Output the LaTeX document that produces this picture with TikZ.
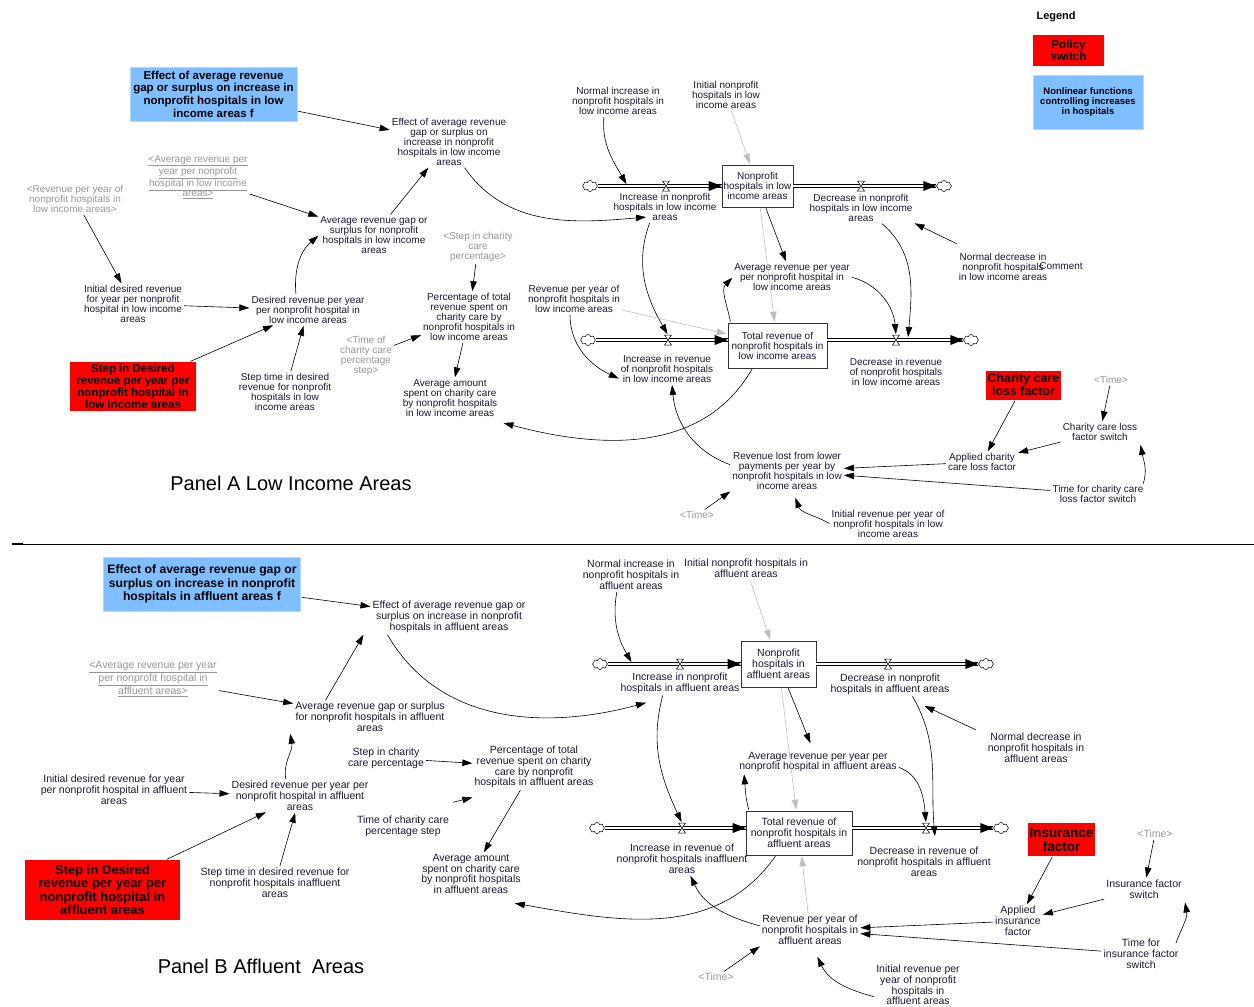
\documentclass[tikz,border=0pt]{standalone}
\usepackage{fontspec}
\setmainfont{Liberation Sans}
\usetikzlibrary{arrows.meta,positioning,shapes.symbols,decorations.markings}
\definecolor{txt}{RGB}{25,25,50}
\definecolor{ghostc}{RGB}{150,150,150}
\definecolor{policyred}{RGB}{255,0,0}
\definecolor{nlblue}{RGB}{128,191,255}
\definecolor{linkgrey}{RGB}{190,190,190}

\begin{document}
\begin{tikzpicture}[x=1pt, y=1pt,
    varnode/.style={align=center, text=txt, inner sep=1pt, font=\fontsize{10}{10}\selectfont},
    varB/.style={varnode, font=\fontsize{10.5}{10.8}\selectfont},
    ghost/.style={varnode, text=ghostc},
    ghostB/.style={varB, text=ghostc},
    stockbox/.style={draw=black!80, rectangle, inner sep=1pt, line width=0.6pt},
    policy/.style={fill=policyred, align=center, inner sep=1pt, text=black},
    nonlin/.style={fill=nlblue, draw=nlblue!60!white, align=center, inner sep=1pt, text=black},
    cloudend/.style={cloud, draw, cloud puffs=8, aspect=1.4, minimum width=15pt, minimum height=11pt, inner sep=0pt, line width=0.5pt},
    link/.style={-{Triangle[length=10pt,width=6.5pt]}, line width=0.6pt, shorten >=1pt, shorten <=1pt},
    greylink/.style={link, draw=linkgrey},
    pipe/.style={draw=black, line width=0.6pt, double=white, double distance=2.4pt,
        postaction={decorate, decoration={markings, mark=at position 1 with {\fill (0,0) -- (-13,5) -- (-13,-5) -- cycle;}}}},
    valve/.pic={\draw[line width=0.5pt, fill=white] (-3.5,5) -- (3.5,5) -- (-3.5,-5) -- (3.5,-5) -- cycle;},
    panel/.style={font=\fontsize{20}{24}\selectfont, text=black}
]
\useasboundingbox (0,0) rectangle (1254,-1007);

% Legend
\node[font=\bfseries\fontsize{11}{13}\selectfont, anchor=west] (legend) at (1033,-17) {Legend};
\node[policy, minimum width=71pt, minimum height=31pt, font=\bfseries\fontsize{11.5}{12.5}\selectfont] (legPolicy) at (1068.5,-50.5) {Policy\\switch};
\node[nonlin, minimum width=110pt, minimum height=54pt, font=\bfseries\fontsize{9.5}{10}\selectfont] (legNonlin) at (1088,-102) {Nonlinear functions\\controlling increases\\in hospitals};

% ---------------- Panel A ----------------
\node[nonlin, minimum width=167pt, minimum height=54pt, font=\bfseries\fontsize{11.5}{12.7}\selectfont] (effAf) at (213.5,-94) {Effect of average revenue\\gap or surplus on increase in\\nonprofit hospitals in low\\income areas f};
\node[varnode] (effA) at (449,-142) {Effect of average revenue\\gap or surplus on\\increase in nonprofit\\hospitals in low income\\areas};
\node[ghost] (avgGhostA) at (198,-177) {\underline{<Average revenue per}\\\underline{year per nonprofit}\\\underline{hospital in low income}\\\underline{areas>}};
\node[ghost] (revGhostA) at (75,-199) {<Revenue per year of\\nonprofit hospitals in\\low income areas>};
\node[varnode] (gapA) at (374,-235) {Average revenue gap or\\surplus for nonprofit\\hospitals in low income\\areas};
\node[varnode] (initDesA) at (133,-304) {Initial desired revenue\\for year per nonprofit\\hospital in low income\\areas};
\node[varnode] (desA) at (308,-310) {Desired revenue per year\\per nonprofit hospital in\\low income areas};
\node[policy, minimum width=126pt, minimum height=49pt, font=\bfseries\fontsize{11.5}{12}\selectfont] (stepA) at (133,-386.5) {Step in Desired\\revenue per year per\\nonprofit hospital in\\low income areas};
\node[varnode] (stepTimeA) at (285,-392) {Step time in desired\\revenue for nonprofit\\hospitals in low\\income areas};
\node[ghost] (timeStepGhostA) at (366,-356) {<Time of\\charity care\\percentage\\step>};
\node[ghost] (stepPctGhostA) at (478,-247) {<Step in charity\\care\\percentage>};
\node[varnode] (pctA) at (469,-317) {Percentage of total\\revenue spent on\\charity care by\\nonprofit hospitals in\\low income areas};
\node[varnode] (charityA) at (450,-398) {Average amount\\spent on charity care\\by nonprofit hospitals\\in low income areas};
\node[panel] (titleA) at (291,-483) {Panel A Low Income Areas};

% stocks and flows A
\node[stockbox, varnode, minimum width=71pt, minimum height=42pt] (hospA) at (757.5,-186) {Nonprofit\\hospitals in low\\income areas};
\node[cloudend] (cloudA1) at (590,-186) {};
\node[cloudend] (cloudA2) at (944,-186) {};
\coordinate (valveIncA) at (666,-186);
\coordinate (valveDecA) at (861,-186);
\coordinate (pipeA) at (627,-185);
\node[varnode] (incHospA) at (665,-207) {Increase in nonprofit\\hospitals in low income\\areas};
\node[varnode] (decHospA) at (861,-208) {Decrease in nonprofit\\hospitals in low income\\areas};
\node[varnode] (normIncA) at (618,-101) {Normal increase in\\nonprofit hospitals in\\low income areas};
\node[varnode] (initHospA) at (726,-95) {Initial nonprofit\\hospitals in low\\income areas};
\node[varnode] (avgRevA) at (792,-277) {Average revenue per year\\per nonprofit hospital in\\low income areas};
\node[varnode] (normDecA) at (1003,-267) {Normal decrease in\\nonprofit hospitals\\in low income areas};
\node[varnode] (commentA) at (1061,-266) {Comment};

\node[stockbox, varnode, minimum width=99pt, minimum height=45pt] (revA) at (777.5,-345.5) {Total revenue of\\nonprofit hospitals in\\low income areas};
\node[cloudend] (cloudA3) at (588,-340) {};
\node[cloudend] (cloudA4) at (971,-340) {};
\coordinate (valveRevIncA) at (668,-340);
\coordinate (valveRevDecA) at (896,-340);
\coordinate (pipeA2) at (908,-338);
\node[varnode] (incRevA) at (667,-369) {Increase in revenue\\of nonprofit hospitals\\in low income areas};
\node[varnode] (decRevA) at (896,-372) {Decrease in revenue\\of nonprofit hospitals\\in low income areas};
\node[varnode] (revYrA) at (574,-299) {Revenue per year of\\nonprofit hospitals in\\low income areas};
\node[varnode] (lostA) at (787,-471) {Revenue lost from lower\\payments per year by\\nonprofit hospitals in low\\income areas};
\node[ghost] (timeA) at (697,-515) {<Time>};
\node[varnode] (initRevA) at (888,-524) {Initial revenue per year of\\nonprofit hospitals in low\\income areas};
\node[policy, minimum width=75pt, minimum height=29pt, font=\bfseries\fontsize{12.4}{13}\selectfont] (careFactor) at (1023.5,-385) {Charity care\\loss factor};
\node[ghost] (timeGhostA2) at (1111,-380) {<Time>};
\node[varnode] (careSwitch) at (1100,-432) {Charity care loss\\factor switch};
\node[varnode] (appliedCare) at (982,-462) {Applied charity\\care loss factor};
\node[varnode] (timeCareSwitch) at (1098,-494) {Time for charity care\\loss factor switch};

\draw[pipe] (cloudA1) -- (hospA);
\draw[pipe] (hospA) -- (cloudA2);
\draw[pipe] (cloudA3) -- (cloudA3 -| revA.west);
\draw[pipe] (cloudA4 -| revA.east) -- (cloudA4);
\foreach \v in {valveIncA,valveDecA,valveRevIncA,valveRevDecA} \pic at (\v) {valve};

% links A
\draw[link] (effAf) -- (effA);
\draw[link] (avgGhostA) -- (gapA);
\draw[link] (gapA) -- (effA);
\draw[link] (revGhostA) -- (initDesA);
\draw[link] (initDesA) -- (desA);
\draw[link] ([xshift=-12pt]desA.north) to[out=95,in=-140] (gapA.west);
\draw[link] (stepA) -- (desA);
\draw[link] (stepTimeA) -- (desA);
\draw[link] (timeStepGhostA) -- (pctA);
\draw[link] (stepPctGhostA) -- (pctA);
\draw[link] (pctA) -- (charityA);
\draw[link] ([xshift=15pt]effA.south) to[out=-55,in=185] ([shift={(-18,-10)}]incHospA.center);
\draw[link] ([xshift=-14pt]normIncA.south) to[out=-95,in=120] (pipeA);
\draw[greylink] (initHospA) -- (hospA);
\draw[link] (hospA) -- (avgRevA);
\draw[greylink] (hospA) -- (revA);
\draw[link] ([yshift=8pt]normDecA.north west) -- (decHospA.south east);
\draw[link] ([xshift=20pt]decHospA.south) to[out=-40,in=85] (pipeA2);
\draw[link] (avgRevA.east) to[out=-15,in=95] ([yshift=5pt]valveRevDecA);
\draw[link] ([xshift=-15pt]incHospA.south) to[out=-110,in=120] ([yshift=5pt]valveRevIncA);
\draw[greylink] (revYrA) -- (revA);
\draw[link] ([xshift=-4pt]revYrA.south) to[out=-90,in=155] ([yshift=-10pt]incRevA.west);
\draw[link] ([xshift=-47pt]revA.north) to[out=100,in=-135] (avgRevA.west);
\draw[link] ([xshift=-25pt]revA.south) to[out=-120,in=-15] ([shift={(4,-5)}]charityA.south east);
\draw[link] ([yshift=6pt]lostA.west) to[out=160,in=-85] ([xshift=5pt]incRevA.south);
\draw[link] (timeA) -- (lostA.south west);
\draw[link] (initRevA.west) to[out=150,in=-70] ([shift={(8,-6)}]lostA.south);
\draw[link] (careFactor) -- (appliedCare);
\draw[link] (timeGhostA2) -- (careSwitch);
\draw[link] (careSwitch) -- (appliedCare);
\draw[link] (appliedCare) -- (lostA);
\draw[link] (timeCareSwitch) -- (lostA);
\draw[link] ([shift={(-2,-1)}]timeCareSwitch.north east) to[out=70,in=-80] ([shift={(2,-2)}]careSwitch.south east);

% separator
\draw[line width=0.7pt] (12,-544) -- (1254,-544);
\draw[line width=2pt] (12,-544) -- (23,-544);

% ---------------- Panel B ----------------
\node[nonlin, minimum width=197pt, minimum height=54pt, font=\bfseries\fontsize{12.2}{13.5}\selectfont] (effBf) at (202,-584) {Effect of average revenue gap or\\surplus on increase in nonprofit\\hospitals in affluent areas f};
\node[varB] (effB) at (449,-617) {Effect of average revenue gap or\\surplus on increase in nonprofit\\hospitals in affluent areas};
\node[ghostB] (avgGhostB) at (153,-679) {\underline{<Average revenue per year}\\\underline{per nonprofit hospital in}\\\underline{affluent areas>}};
\node[varB] (gapB) at (370,-717) {Average revenue gap or surplus\\for nonprofit hospitals in affluent\\areas};
\node[varB] (initDesB) at (114,-790) {Initial desired revenue for year\\per nonprofit hospital in affluent\\areas};
\node[varB] (desB) at (300,-796) {Desired revenue per year per\\nonprofit hospital in affluent\\areas};
\node[policy, minimum width=155pt, minimum height=60pt, font=\bfseries\fontsize{13}{13.5}\selectfont] (stepB) at (102.5,-890) {Step in Desired\\revenue per year per\\nonprofit hospital in\\affluent areas};
\node[varB] (stepTimeB) at (275,-883) {Step time in desired revenue for\\nonprofit hospitals inaffluent\\areas};
\node[varB] (stepPctB) at (386,-758) {Step in charity\\care percentage};
\node[varB] (pctB) at (534,-767) {Percentage of total\\revenue spent on charity\\care by nonprofit\\hospitals in affluent areas};
\node[varB] (timeStepB) at (403,-826) {Time of charity care\\percentage step};
\node[varB] (charityB) at (471,-874) {Average amount\\spent on charity care\\by nonprofit hospitals\\in affluent areas};
\node[panel] (titleB) at (261,-966) {Panel B Affluent\ \ Areas};

% stocks and flows B
\node[stockbox, varB, minimum width=75pt, minimum height=46pt] (hospB) at (778.5,-664) {Nonprofit\\hospitals in\\affluent areas};
\node[cloudend] (cloudB1) at (600,-664) {};
\node[cloudend] (cloudB2) at (986,-664) {};
\coordinate (valveIncB) at (680,-664);
\coordinate (valveDecB) at (888,-664);
\coordinate (pipeB) at (632,-663);
\node[varB] (incHospB) at (680,-683) {Increase in nonprofit\\hospitals in affluent areas};
\node[varB] (decHospB) at (890,-684) {Decrease in nonprofit\\hospitals in affluent areas};
\node[varB] (normIncB) at (631,-575) {Normal increase in\\nonprofit hospitals in\\affluent areas};
\node[varB] (initHospB) at (746,-568) {Initial nonprofit hospitals in\\affluent areas};
\node[varB] (avgRevB) at (818,-762) {Average revenue per year per\\nonprofit hospital in affluent areas};
\node[varB] (normDecB) at (1036,-748) {Normal decrease in\\nonprofit hospitals in\\affluent areas};

\node[stockbox, varB, minimum width=106pt, minimum height=44pt] (revB) at (799,-833) {Total revenue of\\nonprofit hospitals in\\affluent areas};
\node[cloudend] (cloudB3) at (597,-828) {};
\node[cloudend] (cloudB4) at (1001,-828) {};
\coordinate (valveRevIncB) at (682,-828);
\coordinate (valveRevDecB) at (926,-828);
\coordinate (pipeB2) at (935,-837);
\node[varB] (incRevB) at (682,-859) {Increase in revenue of\\nonprofit hospitals inaffluent\\areas};
\node[varB] (decRevB) at (924,-862) {Decrease in revenue of\\nonprofit hospitals in affluent\\areas};
\node[varB] (revYrB) at (810,-930) {Revenue per year of\\nonprofit hospitals in\\affluent areas};
\node[ghostB] (timeB) at (716,-977) {<Time>};
\node[varB] (initRevB) at (918,-985) {Initial revenue per\\year of nonprofit\\hospitals in\\affluent areas};
\node[policy, minimum width=67pt, minimum height=33pt, font=\bfseries\fontsize{13.5}{14}\selectfont] (insFactor) at (1061.5,-839.5) {Insurance\\factor};
\node[ghostB] (timeGhostB2) at (1155,-834) {<Time>};
\node[varB] (insSwitch) at (1144,-889) {Insurance factor\\switch};
\node[varB] (appliedIns) at (1018,-921) {Applied\\insurance\\factor};
\node[varB] (timeInsSwitch) at (1141,-954) {Time for\\insurance factor\\switch};

\draw[pipe] (cloudB1) -- (hospB);
\draw[pipe] (hospB) -- (cloudB2);
\draw[pipe] (cloudB3) -- (cloudB3 -| revB.west);
\draw[pipe] (cloudB4 -| revB.east) -- (cloudB4);
\foreach \v in {valveIncB,valveDecB,valveRevIncB,valveRevDecB} \pic at (\v) {valve};

% links B
\draw[link] (effBf) -- (effB);
\draw[link] (avgGhostB) -- (gapB);
\draw[link] ([xshift=-45pt]gapB.north) -- ([xshift=-85pt]effB.south);
\draw[link] (initDesB) -- (desB);
\draw[link] ([xshift=-14pt]desB.north) to[out=100,in=-80] ([xshift=-80pt]gapB.south);
\draw[link] (stepB) -- (desB);
\draw[link] (stepTimeB) -- (desB);
\draw[link] (stepPctB) -- (pctB);
\draw[link] ([shift={(2,12)}]timeStepB.north east) -- ([yshift=-8pt]pctB.south west);
\draw[link] (pctB) -- (charityB);
\draw[link] ([xshift=-62pt]effB.south) to[out=-60,in=195] ([shift={(-33,-8)}]incHospB.south);
\draw[link] ([xshift=-14pt]normIncB.south) to[out=-100,in=120] (pipeB);
\draw[greylink] (initHospB) -- (hospB);
\draw[link, shorten >=8pt] (hospB) -- (avgRevB);
\draw[greylink] (hospB) -- (revB);
\draw[link] ([shift={(-10,2)}]normDecB.north west) -- ([shift={(-27,-10)}]decHospB.south east);
\draw[link] ([xshift=22pt]decHospB.south) to[out=-60,in=95] (pipeB2);
\draw[link] ([yshift=-5pt]avgRevB.east) to[out=-20,in=95] ([yshift=5pt]valveRevDecB);
\draw[link] ([xshift=-17pt]incHospB.south) to[out=-105,in=115] ([yshift=5pt]valveRevIncB);
\draw[link] ([xshift=-50pt]revB.north) to[out=105,in=-85] ([xshift=-74pt]avgRevB.south);
\draw[link] ([xshift=-23pt]revB.south) to[out=-125,in=-10] ([shift={(-8,-8)}]charityB.south east);
\draw[greylink] (revYrB) -- (revB);
\draw[link] ([yshift=4pt]revYrB.west) to[out=165,in=-65] ([xshift=8pt]incRevB.south);
\draw[link] (timeB) -- (revYrB.south west);
\draw[link] ([yshift=-12pt]initRevB.west) to[out=165,in=-65] ([shift={(7,-10)}]revYrB.south);
\draw[link] (insFactor) -- (appliedIns);
\draw[link] (timeGhostB2) -- (insSwitch);
\draw[link] (insSwitch) -- (appliedIns);
\draw[link] (appliedIns) -- (revYrB);
\draw[link] (timeInsSwitch) -- (revYrB);
\draw[link] ([shift={(-4,-6)}]timeInsSwitch.north east) to[out=70,in=-80] ([shift={(2,-2)}]insSwitch.south east);
\end{tikzpicture}
\end{document}
